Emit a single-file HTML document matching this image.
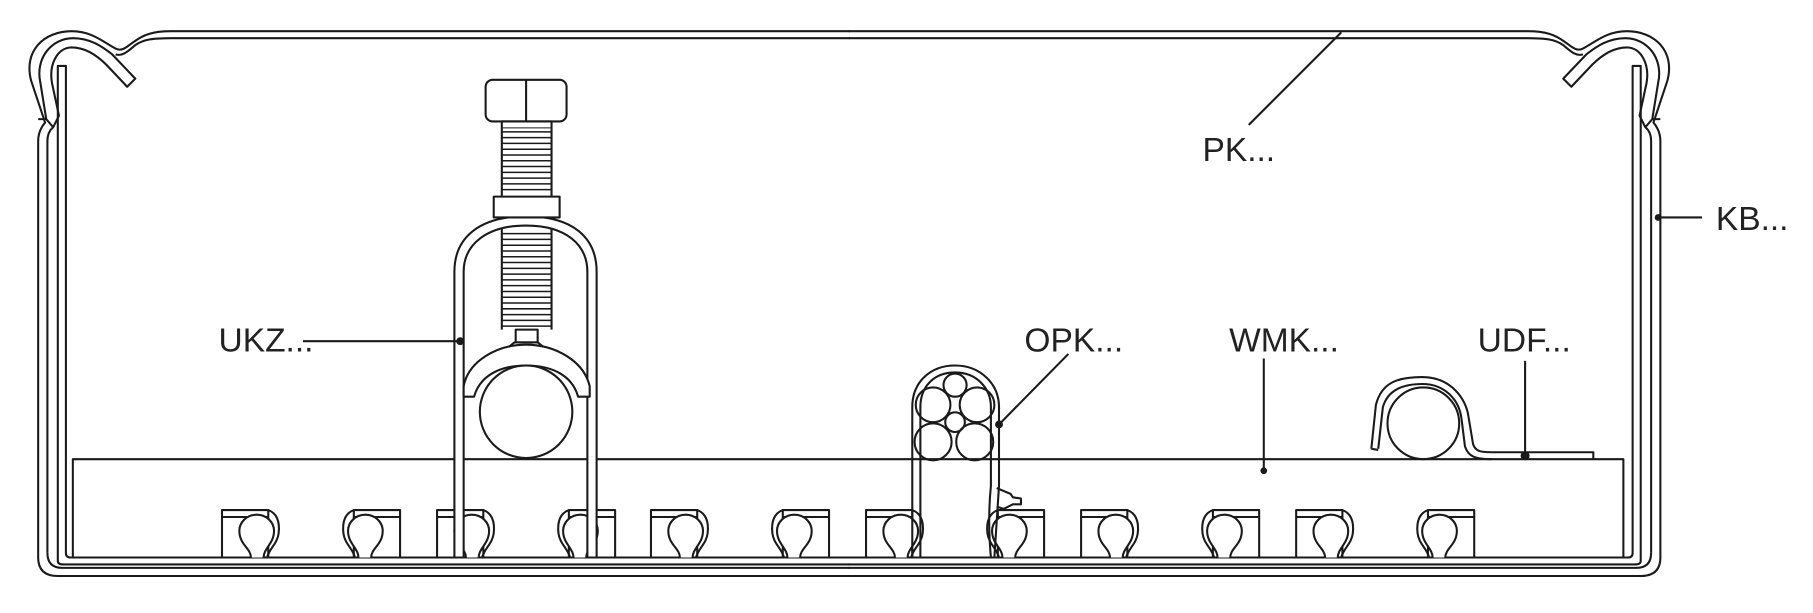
<!DOCTYPE html>
<html><head><meta charset="utf-8"><style>
html,body{margin:0;padding:0;background:#fff;}
svg{display:block;}
text{font-family:"Liberation Sans",sans-serif;font-size:29px;fill:#222;}
</style></head><body>
<svg width="1813" height="613" viewBox="0 0 1568 530" preserveAspectRatio="none" xmlns="http://www.w3.org/2000/svg">
<g fill="none" stroke="#1a1a1a" stroke-width="1.8" stroke-linejoin="round">
<defs>
<g id="half">
  <!-- outer skin -->
  <path d="M33,482 Q33,498 50,498 L735,498"/>
  <path d="M33,482 L33,122 Q33,113 39,106 L27,70 C20,44 38,27 62,27 C80,27 90,37 100,42 C106,45 110,40 116,36 C124,30 132,27 148,27 L735,27"/>
  <!-- inner skin -->
  <path d="M41,478 Q41,491 54,491 L735,491"/>
  <path d="M41,478 L41,122 Q41,114 46,110 L40,103 L33,103 M40,103 L35,72 C30,50 45,33 63,33 C78,33 88,40 97,47 L117,68 L110,75 L92,56 C84,48 74,41 62,41 C50,41 42,55 45,72 L51,100 L46,110"/>
  <path d="M100,47 C106,49 111,44 117,39 C124,34 132,33 148,33 L735,33"/>
  <!-- liner -->
  <path d="M50,485 L50,57 L57,57 L57,478 Q57,482 61,482"/>
  <path d="M50,485 Q50,488 55,488 L735,488"/>
</g>
</defs>
<use href="#half"/>
<use href="#half" transform="translate(1469,0) scale(-1,1)"/>
<line x1="61" y1="482" x2="1408" y2="482"/>
<!-- tray -->
<rect x="63" y="397" width="1341" height="85"/>
<!-- clips -->
<g id="clipA">
  <path d="M192,482 L192,441 L232,441 L232,482"/>
  <line x1="192" y1="447" x2="232" y2="447"/>
  <path d="M217,482 C217,474 207,471 207,459 A15,14 0 1 1 237,459 C237,470 228,474 228,482" fill="#fff"/>
  <path d="M232,441 C240,444 242,452 241,461 C240,470 233,474 231,482"/>
</g>
<use href="#clipA" x="186"/><use href="#clipA" x="371"/><use href="#clipA" x="557"/><use href="#clipA" x="743"/><use href="#clipA" x="929"/>
<g id="clipB" transform="translate(538,0) scale(-1,1)">
  <use href="#clipA"/>
</g>
<use href="#clipB" x="186"/><use href="#clipB" x="371"/><use href="#clipB" x="557"/><use href="#clipB" x="743"/><use href="#clipB" x="929"/>

<!-- UKZ bracket -->
<path d="M393,482 L393,235 C393,205 415,187 455,187 C495,187 516,205 516,235 L516,482 L508,482 L508,235 C508,212 490,195 455,195 C420,195 401,212 401,235 L401,482 Z" fill="#fff"/>
<!-- bolt -->
<rect x="420" y="69" width="70" height="36" rx="6" fill="#fff"/>
<line x1="455" y1="69" x2="455" y2="105"/>
<rect x="434" y="105" width="43" height="6" fill="#fff"/>
<rect x="434" y="111" width="43" height="59" fill="#fff" stroke="none"/>
<path d="M434,111 L434,170 M477,111 L477,170 M434,198 L434,285 M477,198 L477,285"/>
<g stroke-width="1.3">
<path d="M434,114h43M434,119h43M434,124h43M434,129h43M434,134h43M434,139h43M434,144h43M434,149h43M434,154h43M434,159h43M434,164h43"/>
<path d="M434,202h43M434,207h43M434,212h43M434,217h43M434,222h43M434,227h43M434,232h43M434,237h43M434,242h43M434,247h43M434,252h43M434,257h43M434,262h43M434,267h43M434,272h43M434,277h43M434,282h43"/>
</g>
<rect x="427" y="170" width="57" height="18" fill="#fff"/>
<rect x="446" y="285" width="19" height="11" fill="#fff"/>
<path d="M401,343 L401,334 C405,312 430,298 455,298 C480,298 505,312 510,334 L510,343 L500,343 C495,325 478,316 455,316 C432,316 415,325 410,343 Z" fill="#fff"/>
<path d="M440,300 L445,296 L465,296 L470,300"/>
<circle cx="455" cy="356" r="40" fill="#fff"/>
<line x1="262" y1="295" x2="398" y2="295"/>
<circle cx="398" cy="295" r="2.5" fill="#1a1a1a"/>

<!-- OPK bundle -->
<path d="M789,482 L789,352 C789,330 805,316 826,316 C848,316 864,332 864,352 L864,420 L860,482"/>
<path d="M796,482 L796,352 C796,334 808,322 826,322 C845,322 857,336 857,352 L857,420 C855,440 855,460 857,482"/>
<circle cx="826" cy="333" r="10"/>
<circle cx="807" cy="350" r="15"/>
<circle cx="845" cy="350" r="15"/>
<circle cx="826" cy="365" r="8.5"/>
<circle cx="807" cy="382" r="16"/>
<circle cx="843" cy="382" r="16"/>
<path d="M862,422 L874,427 L876,430 L883,431 L883,436 L876,436 L868,440 L862,438"/>
<line x1="924" y1="306" x2="864" y2="367"/>
<circle cx="864" cy="367" r="2.5" fill="#1a1a1a"/>

<!-- WMK leader -->
<line x1="1093" y1="310" x2="1093" y2="407"/>
<circle cx="1093" cy="407" r="2" fill="#1a1a1a"/>

<!-- UDF clip -->
<circle cx="1231" cy="366" r="31"/>
<path d="M1186,388 L1190,350 C1195,330 1210,326 1230,326 C1255,326 1268,345 1270,360 L1274,384 C1276,390 1280,391 1290,391 L1378,391 L1378,397 M1192,388 L1196,352 C1200,338 1212,332 1230,332 C1250,332 1262,346 1264,362 L1267,386 C1270,395 1276,397 1290,397"/>
<path d="M1186,388 L1192,389"/>
<line x1="1319" y1="312" x2="1319" y2="394"/>
<circle cx="1319" cy="394" r="3" fill="#1a1a1a"/>

<!-- PK leader -->
<line x1="1080" y1="108" x2="1160" y2="28"/>
<!-- KB leader -->
<line x1="1436" y1="188" x2="1472" y2="188"/>
<circle cx="1434" cy="188" r="2" fill="#1a1a1a"/>
</g>
<text x="189" y="304">UKZ...</text>
<text x="886" y="304">OPK...</text>
<text x="1063" y="304">WMK...</text>
<text x="1278" y="304">UDF...</text>
<text x="1040" y="139">PK...</text>
<text x="1484" y="199">KB...</text>
</svg>
</body></html>
